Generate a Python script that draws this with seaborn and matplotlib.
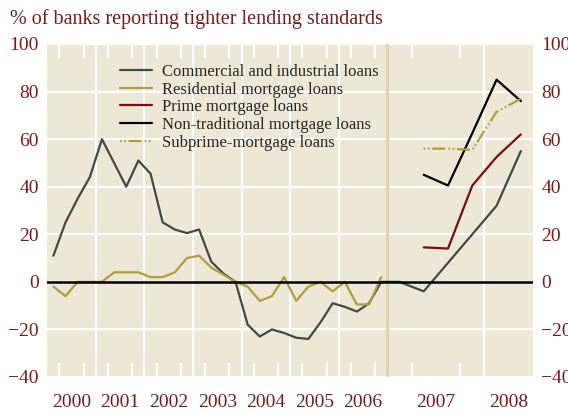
import numpy as np
import pandas as pd
import seaborn as sns
import matplotlib.pyplot as plt

# quarterly survey, 2000Q1 - 2008Q2
years = list(range(2000, 2009))
quarters = [f"{y}Q{q}" for y in years for q in range(1, 5)][:34]

commercial = [11, 25, 35, 44,
              60, 50, 40, 51,
              45.5, 25, 22, 20.5,
              22, 8.5, 3.5, 0,
              -18, -23, -20, -21.5,
              -23.5, -24, -17, -9,
              -10.5, -12.5, -9, 0,
              0, -4, 8, 20,
              32, 55]
residential = [-2, -6, 0, 0,
               0, 4, 4, 4,
               2, 2, 4, 10,
               11, 6, 3, 0,
               -2, -8, -6, 2,
               -8, -2, 0, -4,
               0, -9.5, -9.5, 2]
# 2007Q2 - 2008Q2
prime = [14.5, 14, 40.5, 52.5, 62]
nontrad = [45, 40.5, 62.5, 85, 76]
subprime = [56, 56, 55.5, 71.5, 77]

year_labels = [str(y) for y in years]

RED = '#7a1a1a'
BG = '#ede8d6'


def qpos(label):
    # quarter label -> decimal year at the middle of the quarter
    return int(label[:4]) + (int(label[-1]) - 0.5) / 4


def fwd(t):
    t = np.asarray(t, dtype=float)
    return np.where(t < 2007, t - 2000, 7 + 2 * (t - 2007))


def inv(u):
    u = np.asarray(u, dtype=float)
    return np.where(u < 7, u + 2000, 2007 + (u - 7) / 2)


def frame(vals, start):
    i = quarters.index(start)
    return pd.DataFrame({'t': [qpos(q) for q in quarters[i:i + len(vals)]], 'v': vals})


sns.set_style('white')
plt.rcParams['font.family'] = ['Liberation Serif', 'DejaVu Serif']

fig, ax = plt.subplots(figsize=(5.68, 4.15), dpi=100)
fig.subplots_adjust(left=0.0833, right=0.9384, top=0.894, bottom=0.0916)
ax.set_facecolor(BG)
for s in ax.spines.values():
    s.set_visible(False)

ax.set_xscale('function', functions=(fwd, inv))
ax.set_xlim(2000, 2008.5)
ax.set_ylim(-40, 100)

# grid
ax.set_yticks(range(-40, 101, 20))
ax.grid(axis='y', color='white', lw=1.5)
ax.set_axisbelow(True)
for y in [2001, 2002, 2003, 2004, 2005, 2006, 2008]:
    ax.axvline(y, color='white', lw=1.5, zorder=1)
ax.axvline(2007, color='#dfd2a6', lw=2, zorder=1)

# lines
lw = 1.6
sns.lineplot(data=frame(commercial, '2000Q1'), x='t', y='v', ax=ax, color='#3e4a45', lw=lw,
             label='Commercial and industrial loans')
sns.lineplot(data=frame(residential, '2000Q1'), x='t', y='v', ax=ax, color='#b39a3c', lw=lw,
             label='Residential mortgage loans')
sns.lineplot(data=frame(prime, '2007Q2'), x='t', y='v', ax=ax, color='#7a0c0c', lw=lw,
             label='Prime mortgage loans')
sns.lineplot(data=frame(nontrad, '2007Q2'), x='t', y='v', ax=ax, color='black', lw=lw,
             label='Non-traditional mortgage loans')
sns.lineplot(data=frame(subprime, '2007Q2'), x='t', y='v', ax=ax, color='#b39a3c', lw=lw,
             linestyle=(0, (0.7, 1.2, 0.7, 1.2, 5.9, 1.4)),
             label='Subprime-mortgage loans')
ax.axhline(0, color='black', lw=1.8, zorder=3)

# ticks
minor = [y + q / 4 for y in range(2000, 2007) for q in (1, 2, 3)] + [2007.25, 2007.5, 2007.75, 2008.25]
ax.set_xticks(minor, minor=True)
ax.set_xticks([y + 0.5 for y in range(2000, 2008)] + [2008.25], labels=year_labels)
ax.tick_params(axis='x', which='minor', direction='in', length=10, width=1.5,
               color='white', top=True, bottom=True)
ax.tick_params(axis='x', which='major', length=0, pad=12, labelsize=14, labelcolor=RED)
ax.tick_params(axis='y', length=0, pad=6, labelsize=14, labelcolor=RED,
               labelleft=True, labelright=True)
ax.set_xlabel('')
ax.set_ylabel('')

ax.legend(loc='upper left', bbox_to_anchor=(0.15, 0.94), frameon=False, fontsize=12,
          handlelength=1.9, handletextpad=0.6, labelspacing=0.1, borderpad=0, borderaxespad=0)

fig.text(10 / 568, 1 - 19 / 415, '% of banks reporting tighter lending standards',
         color=RED, fontsize=14.5, va='center', ha='left')

fig.savefig('out.png', dpi=100)
